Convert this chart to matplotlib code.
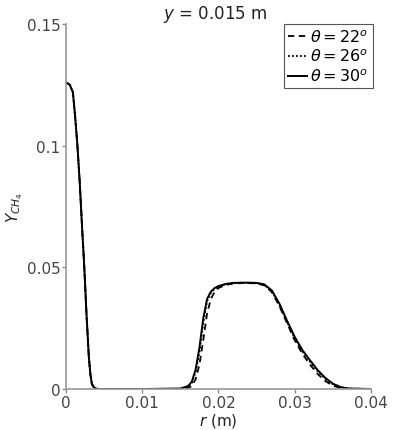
import matplotlib
matplotlib.use("Agg")
import matplotlib.pyplot as plt
import numpy as np

# Data
r30 = [0.0, 0.0005, 0.0009, 0.0012, 0.0015, 0.0018, 0.0021, 0.0024, 0.0027, 0.0030, 0.0032, 0.0034, 0.0037, 0.0040, 0.0045,
       0.010, 0.015, 0.016, 0.0165, 0.017, 0.0175, 0.018, 0.0185, 0.019, 0.0195, 0.020, 0.021, 0.022, 0.023, 0.024, 0.025,
       0.026, 0.027, 0.028, 0.029, 0.030, 0.031, 0.032, 0.033, 0.034, 0.035, 0.036, 0.037, 0.040]
y30 = [0.126, 0.125, 0.122, 0.112, 0.100, 0.085, 0.067, 0.050, 0.030, 0.013, 0.006, 0.002, 0.0005, 0.0001, 0.0,
       0.0, 0.0002, 0.0012, 0.003, 0.008, 0.017, 0.029, 0.037, 0.040, 0.0415, 0.0423, 0.0432, 0.0436, 0.0437, 0.0437, 0.0436,
       0.0430, 0.0405, 0.035, 0.028, 0.0214, 0.016, 0.0118, 0.0078, 0.0046, 0.0022, 0.0008, 0.0002, 0.0]

r26 = [0.0, 0.0005, 0.0009, 0.0012, 0.0015, 0.0018, 0.0021, 0.0024, 0.0027, 0.0030, 0.0032, 0.0034, 0.0037, 0.0040, 0.0045,
       0.010, 0.015, 0.016, 0.0165, 0.017, 0.0175, 0.018, 0.0185, 0.019, 0.0195, 0.020, 0.021, 0.022, 0.023, 0.024, 0.025,
       0.026, 0.027, 0.028, 0.029, 0.030, 0.031, 0.032, 0.033, 0.034, 0.035, 0.036, 0.037, 0.040]
y26 = [0.126, 0.125, 0.122, 0.112, 0.100, 0.085, 0.067, 0.050, 0.030, 0.013, 0.006, 0.002, 0.0005, 0.0001, 0.0,
       0.0, 0.0001, 0.0009, 0.0025, 0.007, 0.015, 0.027, 0.036, 0.0395, 0.0412, 0.0421, 0.0431, 0.0435, 0.0436, 0.0436, 0.0435,
       0.0428, 0.0402, 0.0345, 0.0275, 0.0208, 0.0155, 0.0112, 0.0073, 0.0042, 0.0020, 0.0007, 0.0002, 0.0]

r22 = [0.0, 0.0005, 0.0009, 0.0012, 0.0015, 0.0018, 0.0021, 0.0024, 0.0027, 0.0030, 0.0032, 0.0034, 0.0037, 0.0040, 0.0045,
       0.010, 0.015, 0.016, 0.0165, 0.017, 0.0175, 0.018, 0.0185, 0.019, 0.0195, 0.020, 0.021, 0.022, 0.023, 0.024, 0.025,
       0.026, 0.027, 0.028, 0.029, 0.030, 0.031, 0.032, 0.033, 0.034, 0.035, 0.036, 0.037, 0.040]
y22 = [0.126, 0.125, 0.122, 0.112, 0.100, 0.085, 0.067, 0.050, 0.030, 0.013, 0.006, 0.002, 0.0005, 0.0001, 0.0,
       0.0, 0.0, 0.0004, 0.0012, 0.004, 0.010, 0.020, 0.031, 0.037, 0.040, 0.0415, 0.0428, 0.0434, 0.0435, 0.0435, 0.0434,
       0.0426, 0.0398, 0.034, 0.027, 0.0200, 0.0145, 0.0100, 0.0062, 0.0033, 0.0014, 0.0004, 0.0001, 0.0]

labels = [r"$\theta = 22^o$", r"$\theta = 26^o$", r"$\theta = 30^o$"]
xticks = [0, 0.01, 0.02, 0.03, 0.04]
xticklabels = ["0", "0.01", "0.02", "0.03", "0.04"]
yticks = [0, 0.05, 0.1, 0.15]
yticklabels = ["0", "0.05", "0.1", "0.15"]

fig = plt.figure(figsize=(3.94, 4.31), dpi=100)
ax = fig.add_axes([0.1675, 0.0951, 0.7741, 0.847])

ax.plot(r22, y22, color="black", linestyle=(0, (3.5, 2.5)), lw=1.3, label=labels[0])
ax.plot(r26, y26, color="black", linestyle=(0, (1, 1.2)), lw=1.3, label=labels[1])
ax.plot(r30, y30, color="black", linestyle="-", lw=1.4, label=labels[2])

ax.set_xlim(0, 0.04)
ax.set_ylim(0, 0.15)
ax.set_xticks(xticks)
ax.set_xticklabels(xticklabels)
ax.set_yticks(yticks)
ax.set_yticklabels(yticklabels)

for s in ["top", "right"]:
    ax.spines[s].set_visible(False)
for s in ["left", "bottom"]:
    ax.spines[s].set_color("#999999")
    ax.spines[s].set_linewidth(1.2)
ax.tick_params(axis="both", colors="#888888", labelcolor="#444444", labelsize=11, length=3, width=1, pad=1)

ax.set_xlabel(r"$r$ (m)", fontsize=11, labelpad=1, color="#222222")
ax.set_ylabel(r"$Y_{CH_4}$", fontsize=11, color="#222222", va="center")
ax.yaxis.set_label_coords(-0.167, 0.5)
ax.set_title(r"$y$ = 0.015 m", fontsize=12, pad=2, x=0.49, color="#222222")

leg = ax.legend(loc="upper right", bbox_to_anchor=(1.005, 1.0), fontsize=11.5, handlelength=1.2, handletextpad=0.2,
                borderpad=0.25, labelspacing=0.2, borderaxespad=0.0, fancybox=False, framealpha=1)
leg.get_frame().set_edgecolor("#555555")
leg.get_frame().set_linewidth(0.8)

fig.savefig("out.png", dpi=100)
